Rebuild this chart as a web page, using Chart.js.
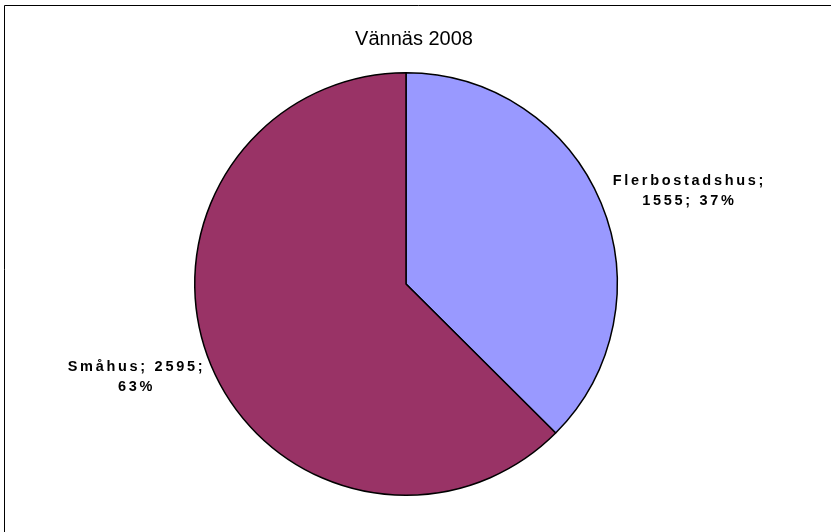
<!DOCTYPE html>
<html>
<head>
<meta charset="utf-8">
<script src="https://cdn.jsdelivr.net/npm/chart.js@4"></script>
<style>
  html, body { margin: 0; padding: 0; background: #fff; }
  #wrap { width: 831px; height: 532px; }
</style>
</head>
<body>
<div id="wrap"><canvas id="grafico"></canvas></div>
<script>
const categorias = ["Flerbostadshus", "Småhus"];
const valores = [1555, 2595];
const cores = ["#9999FF", "#993366"];
const titulo = "Vännäs 2008";

// moldura do gráfico (só esquerda e topo aparecem)
const moldura = {
  id: "moldura",
  afterLayout(chart) {
    // título um pouco à direita, como no original
    if (chart.titleBlock) {
      chart.titleBlock.left += 8;
      chart.titleBlock.right += 8;
    }
  },
  afterDraw(chart) {
    const ctx = chart.ctx;
    ctx.save();
    ctx.strokeStyle = "#000";
    ctx.lineWidth = 1;
    ctx.beginPath();
    ctx.moveTo(4.5, chart.height + 5);
    ctx.lineTo(4.5, 5.5);
    ctx.lineTo(chart.width + 5, 5.5);
    ctx.stroke();
    ctx.restore();
  }
};

// rótulos "nome; valor; %" fora das fatias
const rotulos = {
  id: "rotulos",
  afterDatasetsDraw(chart) {
    const ctx = chart.ctx;
    const meta = chart.getDatasetMeta(0);
    const total = valores.reduce((a, b) => a + b, 0);
    ctx.save();
    ctx.font = "bold 14.5px 'Liberation Sans', Arial, sans-serif";
    ctx.letterSpacing = "2.7px";
    ctx.fillStyle = "#000";
    ctx.textBaseline = "middle";
    ctx.textAlign = "left";
    meta.data.forEach((arco, i) => {
      const p = arco.getProps(["x", "y", "startAngle", "endAngle", "outerRadius"], true);
      const meio = (p.startAngle + p.endAngle) / 2;
      const pct = Math.round(valores[i] / total * 100);
      const palavras = [categorias[i] + ";", valores[i] + ";", pct + "%"];
      const linhas = [];
      let atual = "";
      palavras.forEach(w => {
        const teste = atual ? atual + " " + w : w;
        if (atual && ctx.measureText(teste).width > 165) {
          linhas.push(atual);
          atual = w;
        } else {
          atual = teste;
        }
      });
      linhas.push(atual);
      const larg = Math.max(...linhas.map(l => ctx.measureText(l).width));
      const ax = p.x + Math.cos(meio) * p.outerRadius * 1.06;
      const ay = p.y + Math.sin(meio) * p.outerRadius * 1.06 + Math.sin(meio) * 19;
      const cx = Math.cos(meio) >= 0 ? ax + larg / 2 : ax - larg / 2 + 6;
      const alt = 20;
      linhas.forEach((l, k) => {
        const w = ctx.measureText(l).width;
        ctx.fillText(l, cx - w / 2, ay + (k - (linhas.length - 1) / 2) * alt);
      });
    });
    ctx.restore();
  }
};

new Chart(document.getElementById("grafico"), {
  type: "pie",
  data: {
    labels: categorias,
    datasets: [{
      data: valores,
      backgroundColor: cores,
      borderColor: "#000",
      borderWidth: 1.5,
      hoverOffset: 0
    }]
  },
  options: {
    responsive: true,
    maintainAspectRatio: false,
    animation: false,
    events: [],
    layout: {
      padding: { top: 27, bottom: 36, left: 0, right: 19 }
    },
    plugins: {
      legend: { display: false },
      tooltip: { enabled: false },
      title: {
        display: true,
        text: titulo,
        color: "#000",
        font: { family: "'Liberation Sans', Arial, sans-serif", size: 20, weight: "normal" },
        padding: { top: 0, bottom: 21 }
      }
    }
  },
  plugins: [moldura, rotulos]
});
</script>
</body>
</html>
